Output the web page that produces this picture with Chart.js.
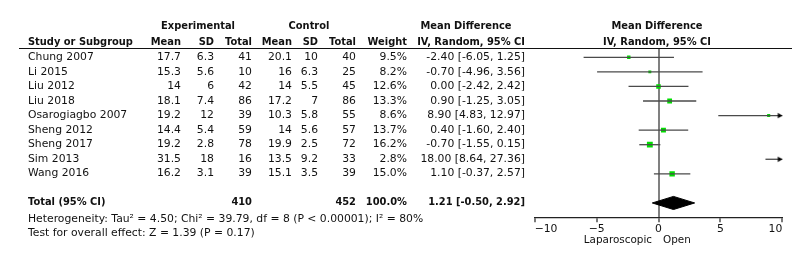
<!DOCTYPE html>
<html>
<head>
<meta charset="utf-8">
<script src="https://cdn.jsdelivr.net/npm/chart.js@4.4.0/dist/chart.umd.min.js"></script>
<style>
  html, body { margin: 0; padding: 0; background: #fff; }
  #wrap { position: relative; width: 799px; height: 262px; overflow: hidden; font-family: 'DejaVu Sans', sans-serif; font-size: 10.8px; color: #111; }
  #chart { position: absolute; left: 0; top: 0; }
  .t { position: absolute; height: 14px; line-height: 14px; white-space: nowrap; }
  .r { text-align: right; }
  .c { text-align: center; }
  .b { font-weight: bold; font-size: 9.9px; }
  .s { font-size: 10.4px; }
  #rule { position: absolute; left: 19px; top: 48px; width: 773px; height: 0; border-top: 1px solid #111; }
</style>
</head>
<body>
<div id="wrap">
  <canvas id="chart" width="799" height="262"></canvas>
  <div id="rule"></div>
  <div id="table"></div>
</div>
<script>
const studies = ['Chung 2007', 'Li 2015', 'Liu 2012', 'Liu 2018', 'Osarogiagbo 2007', 'Sheng 2012', 'Sheng 2017', 'Sim 2013', 'Wang 2016'];
const expMean = [17.7, 15.3, 14, 18.1, 19.2, 14.4, 19.2, 31.5, 16.2];
const expSD = [6.3, 5.6, 6, 7.4, 12, 5.4, 2.8, 18, 3.1];
const expTotal = [41, 10, 42, 86, 39, 59, 78, 16, 39];
const ctlMean = [20.1, 16, 14, 17.2, 10.3, 14, 19.9, 13.5, 15.1];
const ctlSD = [10, 6.3, 5.5, 7, 5.8, 5.6, 2.5, 9.2, 3.5];
const ctlTotal = [40, 25, 45, 86, 55, 57, 72, 33, 39];
const weight = [9.5, 8.2, 12.6, 13.3, 8.6, 13.7, 16.2, 2.8, 15.0];
const md = [-2.40, -0.70, 0.00, 0.90, 8.90, 0.40, -0.70, 18.00, 1.10];
const ciLo = [-6.05, -4.96, -2.42, -1.25, 4.83, -1.60, -1.55, 8.64, -0.37];
const ciHi = [1.25, 3.56, 2.42, 3.05, 12.97, 2.40, 0.15, 27.36, 2.57];

const totalExp = 410;
const totalCtl = 452;
const totalWeight = 100.0;
const totalMd = 1.21;
const totalLo = -0.50;
const totalHi = 2.92;

const xTicks = [-10, -5, 0, 5, 10];
const xMin = -10;
const xMax = 10;
const TOTAL_ROW = 10;

const heterogeneity = 'Heterogeneity: Tau\u00b2 = 4.50; Chi\u00b2 = 39.79, df = 8 (P < 0.00001); I\u00b2 = 80%';
const overallTest = 'Test for overall effect: Z = 1.39 (P = 0.17)';

const table = document.getElementById('table');

function put(text, x, y, align, cls) {
  const d = document.createElement('div');
  d.className = 't' + (cls ? ' ' + cls : '');
  d.textContent = text;
  d.style.top = (y - 7) + 'px';
  if (align === 'r') {
    d.classList.add('r');
    d.style.left = (x - 240) + 'px';
    d.style.width = '240px';
  } else if (align === 'c') {
    d.classList.add('c');
    d.style.left = (x - 150) + 'px';
    d.style.width = '300px';
  } else {
    d.style.left = x + 'px';
  }
  table.appendChild(d);
}

function rowY(i) {
  return 57.3 + i * 14.5;
}

function ciText(m, lo, hi) {
  return `${m.toFixed(2)} [${lo.toFixed(2)}, ${hi.toFixed(2)}]`;
}

const cols = { study: 28, eMean: 181, eSD: 214, eTot: 252, cMean: 292, cSD: 318, cTot: 356, w: 407, ci: 525 };

put('Experimental', 198, 26, 'c', 'b');
put('Control', 309, 26, 'c', 'b');
put('Mean Difference', 466, 26, 'c', 'b');
put('Mean Difference', 657, 26, 'c', 'b');
put('Study or Subgroup', cols.study, 42, 'l', 'b');
put('Mean', cols.eMean, 42, 'r', 'b');
put('SD', cols.eSD, 42, 'r', 'b');
put('Total', cols.eTot, 42, 'r', 'b');
put('Mean', cols.cMean, 42, 'r', 'b');
put('SD', cols.cSD, 42, 'r', 'b');
put('Total', cols.cTot, 42, 'r', 'b');
put('Weight', cols.w, 42, 'r', 'b');
put('IV, Random, 95% CI', cols.ci, 42, 'r', 'b');
put('IV, Random, 95% CI', 657, 42, 'c', 'b');

studies.forEach((s, i) => {
  const y = rowY(i);
  put(s, cols.study, y, 'l');
  put(String(expMean[i]), cols.eMean, y, 'r');
  put(String(expSD[i]), cols.eSD, y, 'r');
  put(String(expTotal[i]), cols.eTot, y, 'r');
  put(String(ctlMean[i]), cols.cMean, y, 'r');
  put(String(ctlSD[i]), cols.cSD, y, 'r');
  put(String(ctlTotal[i]), cols.cTot, y, 'r');
  put(weight[i].toFixed(1) + '%', cols.w, y, 'r');
  put(ciText(md[i], ciLo[i], ciHi[i]), cols.ci, y, 'r');
});

const ty = rowY(TOTAL_ROW);
put('Total (95% CI)', cols.study, ty, 'l', 'b');
put(String(totalExp), cols.eTot, ty, 'r', 'b');
put(String(totalCtl), cols.cTot, ty, 'r', 'b');
put(totalWeight.toFixed(1) + '%', cols.w, ty, 'r', 'b');
put(ciText(totalMd, totalLo, totalHi), cols.ci, ty, 'r', 'b');
put(heterogeneity, cols.study, 219, 'l');
put(overallTest, cols.study, 233, 'l');
put('Laparoscopic', 652, 239, 'r', 's');
put('Open', 663, 239, 'l', 's');

// arrowhead whose tip sits at the centre of the image, so it ends exactly on the axis limit
function makeArrow() {
  const c = document.createElement('canvas');
  c.width = 12;
  c.height = 7;
  const g = c.getContext('2d');
  g.fillStyle = '#000';
  g.beginPath();
  g.moveTo(6, 3.5);
  g.lineTo(1.5, 0.8);
  g.lineTo(1.5, 6.2);
  g.closePath();
  g.fill();
  return c;
}
const arrow = makeArrow();

const ciSets = studies.map((s, i) => {
  const over = ciHi[i] > xMax;
  return {
    data: [{ x: Math.max(ciLo[i], xMin), y: i }, { x: Math.min(ciHi[i], xMax), y: i }],
    showLine: true,
    borderColor: '#4a4a4a',
    borderWidth: 1.3,
    pointRadius: [0, over ? 4 : 0],
    pointStyle: [false, over ? arrow : false],
    clip: false,
  };
});

const pointSet = {
  data: md.map((v, i) => ({ x: v, y: i })),
  pointStyle: 'rect',
  pointRadius: weight.map((w, i) => (md[i] > xMax ? 0 : w * 0.255)),
  pointBackgroundColor: '#00dd00',
  pointBorderWidth: 0,
  showLine: false,
};

const diamondSet = {
  data: [
    { x: totalLo, y: TOTAL_ROW },
    { x: totalMd, y: TOTAL_ROW - 0.45 },
    { x: totalHi, y: TOTAL_ROW },
    { x: totalMd, y: TOTAL_ROW + 0.45 },
    { x: totalLo, y: TOTAL_ROW },
  ],
  showLine: true,
  fill: 'shape',
  backgroundColor: '#000',
  borderColor: '#000',
  borderWidth: 1,
  pointRadius: 0,
};

new Chart(document.getElementById('chart'), {
  type: 'scatter',
  data: { datasets: [...ciSets, pointSet, diamondSet] },
  options: {
    responsive: false,
    animation: false,
    layout: { padding: { left: 534.7, right: 16.7, top: 49, bottom: 26.8 } },
    plugins: { legend: { display: false }, tooltip: { enabled: false } },
    scales: {
      x: {
        type: 'linear',
        min: xMin,
        max: xMax,
        afterBuildTicks: (axis) => { axis.ticks = xTicks.map((v) => ({ value: v })); },
        ticks: {
          font: { family: 'DejaVu Sans', size: 10.8 },
          color: '#111',
          padding: 0,
          align: 'inner',
          callback: (v) => (v < 0 ? '\u2212' + Math.abs(v) : String(v)),
        },
        grid: {
          color: (ctx) => (ctx.tick && ctx.tick.value === 0 ? '#808080' : 'rgba(0,0,0,0)'),
          lineWidth: 2,
          tickColor: '#222',
          tickWidth: 1.2,
          tickLength: 5,
        },
        border: { color: '#222', width: 1.3 },
      },
      y: { type: 'linear', reverse: true, min: -0.57, max: 10.98, display: false },
    },
  },
});
</script>
</body>
</html>
